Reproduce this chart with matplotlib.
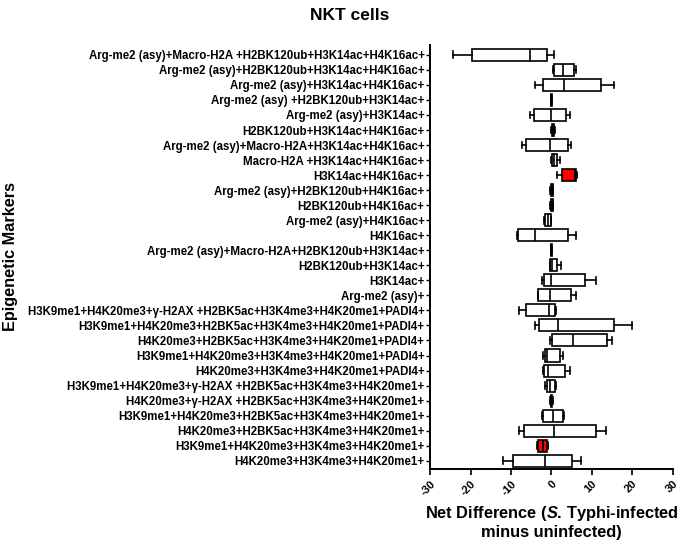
import numpy as np
import matplotlib
matplotlib.use('Agg')
import matplotlib.pyplot as plt

plt.rcParams['font.family'] = ['Liberation Sans', 'DejaVu Sans']
plt.rcParams['font.weight'] = 'bold'
plt.rcParams['mathtext.fontset'] = 'custom'
plt.rcParams['mathtext.it'] = 'Liberation Sans:italic:bold'

# 마커 조합 (위에서 아래 순서)
labels = [
    'Arg-me2 (asy)+Macro-H2A +H2BK120ub+H3K14ac+H4K16ac+',
    'Arg-me2 (asy)+H2BK120ub+H3K14ac+H4K16ac+',
    'Arg-me2 (asy)+H3K14ac+H4K16ac+',
    'Arg-me2 (asy) +H2BK120ub+H3K14ac+',
    'Arg-me2 (asy)+H3K14ac+',
    'H2BK120ub+H3K14ac+H4K16ac+',
    'Arg-me2 (asy)+Macro-H2A+H3K14ac+H4K16ac+',
    'Macro-H2A +H3K14ac+H4K16ac+',
    'H3K14ac+H4K16ac+',
    'Arg-me2 (asy)+H2BK120ub+H4K16ac+',
    'H2BK120ub+H4K16ac+',
    'Arg-me2 (asy)+H4K16ac+',
    'H4K16ac+',
    'Arg-me2 (asy)+Macro-H2A+H2BK120ub+H3K14ac+',
    'H2BK120ub+H3K14ac+',
    'H3K14ac+',
    'Arg-me2 (asy)+',
    'H3K9me1+H4K20me3+γ-H2AX +H2BK5ac+H3K4me3+H4K20me1+PADI4+',
    'H3K9me1+H4K20me3+H2BK5ac+H3K4me3+H4K20me1+PADI4+',
    'H4K20me3+H2BK5ac+H3K4me3+H4K20me1+PADI4+',
    'H3K9me1+H4K20me3+H3K4me3+H4K20me1+PADI4+',
    'H4K20me3+H3K4me3+H4K20me1+PADI4+',
    'H3K9me1+H4K20me3+γ-H2AX +H2BK5ac+H3K4me3+H4K20me1+',
    'H4K20me3+γ-H2AX +H2BK5ac+H3K4me3+H4K20me1+',
    'H3K9me1+H4K20me3+H2BK5ac+H3K4me3+H4K20me1+',
    'H4K20me3+H2BK5ac+H3K4me3+H4K20me1+',
    'H3K9me1+H4K20me3+H3K4me3+H4K20me1+',
    'H4K20me3+H3K4me3+H4K20me1+',
]

whislo = [-24.4, 0.3, -4.1, -0.2, -5.2, -0.1, -7.3, 0.0, 1.3, -0.3, -0.3, -1.8, -8.5, -0.2,
          -0.4, -2.4, -3.4, -8.1, -4.1, -0.4, -2.0, -2.1, -1.5, -0.4, -2.4, -7.9, -3.5, -12.0]
q1 = [-19.7, 0.6, -2.1, -0.1, -4.2, 0.1, -6.2, 0.2, 2.5, -0.1, -0.1, -1.5, -8.2, -0.1,
      -0.3, -1.8, -3.2, -6.2, -3.0, 0.2, -1.7, -1.8, -1.1, -0.2, -2.1, -6.7, -3.3, -9.4]
med = [-5.2, 2.9, 3.2, 0.0, -0.2, 0.4, -0.4, 0.6, 5.8, 0.1, 0.1, -0.9, -4.1, 0.0,
       0.2, -0.1, -0.3, -0.5, 1.7, 5.4, -1.1, -0.9, -0.3, 0.0, 0.3, 0.6, -2.1, -1.5]
q3 = [-1.1, 5.6, 12.2, 0.1, 3.6, 0.7, 4.0, 1.5, 6.2, 0.3, 0.3, -0.2, 4.0, 0.1,
      1.5, 8.3, 4.9, 0.9, 15.6, 13.7, 2.1, 3.3, 0.9, 0.2, 2.9, 11.0, -1.1, 5.0]
whishi = [0.6, 6.0, 15.4, 0.2, 4.6, 1.0, 4.8, 2.0, 6.4, 0.5, 0.5, 0.0, 6.0, 0.2,
          2.3, 11.1, 6.2, 1.2, 20.0, 15.1, 2.9, 4.7, 1.2, 0.4, 3.2, 13.4, -0.8, 7.2]
highlight = [8, 26]  # 빨간 박스

stats = []
for i in range(len(labels)):
    stats.append({'whislo': whislo[i], 'q1': q1[i], 'med': med[i],
                  'q3': q3[i], 'whishi': whishi[i], 'fliers': []})

pos = np.arange(1, len(labels) + 1)

fig = plt.figure(figsize=(6.85, 5.46), dpi=100)
ax = fig.add_axes([0.628, 0.141, 0.354, 0.777])

lw = 1.2
bp = ax.bxp(stats, positions=pos, orientation='horizontal', widths=0.8, capwidths=0.45,
            patch_artist=True, showfliers=False,
            boxprops=dict(linewidth=lw, edgecolor='black', facecolor='white'),
            medianprops=dict(color='black', linewidth=lw),
            whiskerprops=dict(color='black', linewidth=lw),
            capprops=dict(color='black', linewidth=lw))
for i in highlight:
    bp['boxes'][i].set_facecolor('#ff0000')

ax.set_xlim(-30, 30)
ax.set_ylim(28.55, 0.33)
ax.set_yticks(pos)
ax.set_yticklabels(labels, fontsize=8.3, fontweight='bold')
ax.set_xticks(np.arange(-30, 31, 10))
ax.set_xticklabels([str(v) for v in range(-30, 31, 10)], fontsize=8, fontweight='bold',
                   rotation=45, ha='right', va='top', rotation_mode='anchor')
ax.tick_params(axis='y', length=3, width=1, pad=1)
ax.tick_params(axis='x', length=4, width=1.2, pad=3)

for s in ['top', 'right']:
    ax.spines[s].set_visible(False)
for s in ['left', 'bottom']:
    ax.spines[s].set_linewidth(1.4)

ax.set_ylabel('Epigenetic Markers', fontsize=11.7, fontweight='bold')
ax.yaxis.set_label_coords(-1.70, 0.5)
ax.set_xlabel('Net Difference ($S$. Typhi-infected\nminus uninfected)',
              fontsize=11.8, fontweight='bold', labelpad=5, linespacing=1.15)

fig.text(0.51, 0.985, 'NKT cells', ha='center', va='top', fontsize=12.5, fontweight='bold')

plt.savefig('out.png', dpi=100)
